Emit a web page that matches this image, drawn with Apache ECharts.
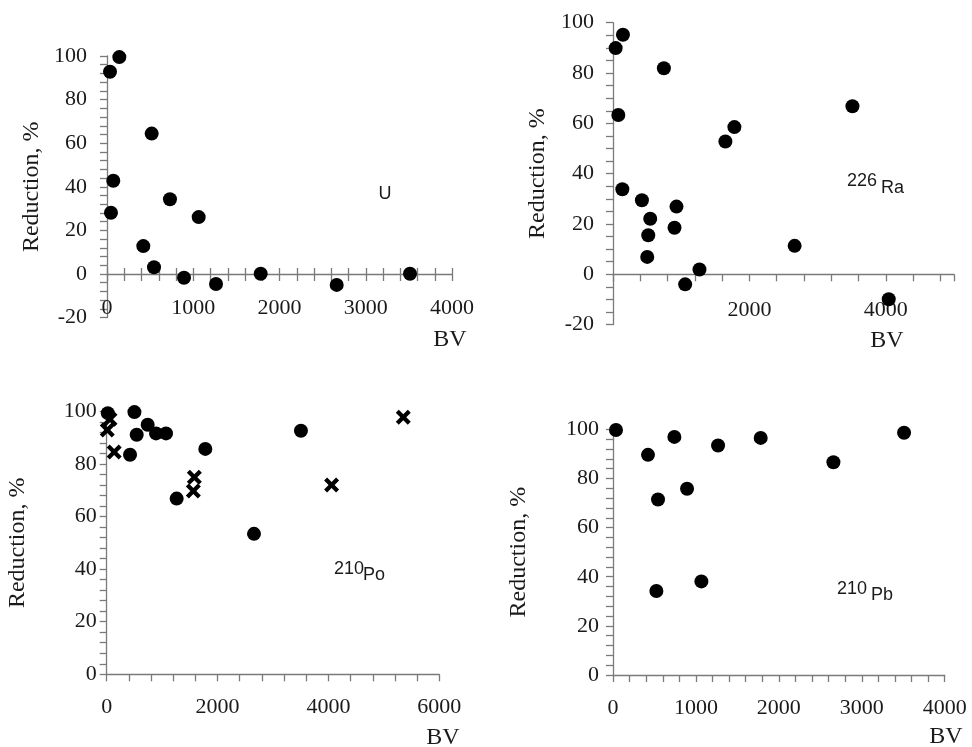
<!DOCTYPE html>
<html>
<head>
<meta charset="utf-8">
<script src="https://cdn.jsdelivr.net/npm/echarts@6/dist/echarts.min.js"></script>
<style>
  html, body { margin: 0; background: #fff; }
  #chart { width: 972px; height: 747px; }
</style>
</head>
<body>
<div id="chart"></div>
<script>
// U
const uBV = [35, 143, 73, 46, 518, 730, 1063, 421, 545, 893, 1264, 1782, 2663, 3513]
const uRed = [92.8, 99.5, 42.8, 28.1, 64.4, 34.3, 26.1, 12.8, 3.1, -1.7, -4.6, 0.1, -5, 0.1]
// 226Ra
const raBV = [39, 146, 746, 78, 137, 424, 546, 517, 502, 931, 902, 1058, 1268, 1648, 1780, 2663, 3511, 4043]
const raRed = [89.9, 95.2, 81.9, 63.3, 33.8, 29.4, 22.1, 15.5, 6.9, 26.9, 18.5, -4.0, 1.9, 52.8, 58.5, 11.3, 66.8, -9.9]
// 210Po (circles and crosses)
const poBV = [20, 500, 739, 541, 890, 1070, 421, 1779, 1262, 2657, 3504]
const poRed = [99.3, 99.7, 94.9, 91.1, 91.6, 91.6, 83.5, 85.7, 66.8, 53.4, 92.6]
const poCrossBV = [10, 60, 135, 1581, 1563, 4057, 5350]
const poCrossRed = [92.9, 97.0, 84.5, 74.9, 69.7, 72.0, 97.7]
// 210Pb
const pbBV = [36, 422, 740, 1267, 1781, 2658, 3510, 543, 893, 523, 1066]
const pbRed = [99.7, 89.6, 96.9, 93.4, 96.5, 86.6, 98.6, 71.4, 75.8, 34.2, 38.1]

const yName = 'Reduction, %'
const serif = 'Liberation Serif'
const sans = 'Liberation Sans'
const textColor = '#1a1a1a'
const lineColor = '#7a7a7a'

const zip = (xs, ys) => xs.map((x, i) => [x, ys[i]])
const every = step => v => (Math.round(v) % step === 0 ? String(Math.round(v)) : '')
const lineStyle = { color: lineColor, width: 1.3 }
const labelStyle = { color: textColor, fontFamily: serif, fontSize: 22 }

const chart = echarts.init(document.getElementById('chart'))

function xAxis(grid, max, interval, labelFn, opts = {}) {
  return Object.assign({
    type: 'value', gridIndex: grid, min: 0, max, interval, position: 'bottom',
    axisLine: { onZero: false, lineStyle },
    axisTick: { length: 7, lineStyle },
    axisLabel: Object.assign({ formatter: labelFn, margin: 22 }, labelStyle),
    splitLine: { show: false }
  }, opts)
}

// x axis that only carries the scale for the marks (drawn on a separate grid)
function hiddenX(grid, max) {
  return { type: 'value', gridIndex: grid, min: 0, max, show: false, splitLine: { show: false } }
}

function yAxis(grid, min, interval, gap, margin) {
  return {
    type: 'value', gridIndex: grid, min, max: 100, interval,
    name: yName, nameLocation: 'middle', nameRotate: 90, nameGap: gap,
    nameTextStyle: { color: textColor, fontFamily: serif, fontSize: 24 },
    axisLine: { show: true, onZero: false, lineStyle },
    axisTick: { show: true, length: 7, lineStyle },
    axisLabel: Object.assign({ formatter: every(20), margin }, labelStyle),
    splitLine: { show: false }
  }
}

function hiddenY(grid) {
  return { type: 'value', gridIndex: grid, min: 0, max: 100, show: false, splitLine: { show: false } }
}

const black = { color: '#000', opacity: 1 }
const dot = { symbol: 'circle', symbolSize: 14, itemStyle: black }
const cross = 'path://M0,4 L4,0 L10,6 L16,0 L20,4 L14,10 L20,16 L16,20 L10,14 L4,20 L0,16 L6,10 Z'

function txt(x, y, text, size, family, align) {
  return {
    type: 'text', x, y,
    style: { text, fill: textColor, font: size + 'px "' + family + '"', align: align || 'center', verticalAlign: 'middle' }
  }
}

chart.setOption({
  backgroundColor: '#fff',
  animation: false,
  grid: [
    { left: 107, top: 56, width: 345, height: 261.6 },      // 0 U
    { left: 613, top: 22.7, width: 341, height: 301.9 },    // 1 Ra
    { left: 106.7, top: 411.3, width: 332.6, height: 263 }, // 2 Po
    { left: 613, top: 429.3, width: 331.7, height: 245.7 }, // 3 Pb
    { left: 107, top: 56, width: 345, height: 218 },        // 4 U x axis at zero
    { left: 613, top: 22.7, width: 341, height: 251.6 }     // 5 Ra x axis at zero
  ],
  xAxis: [
    hiddenX(0, 4000),
    hiddenX(1, 5000),
    xAxis(2, 6000, 400, every(2000)),
    xAxis(3, 4000, 200, every(1000)),
    xAxis(4, 4000, 200, every(1000), { axisLabel: Object.assign({ formatter: every(1000), margin: 23 }, labelStyle) }),
    xAxis(4, 4000, 200, () => '', { axisLine: { show: false }, axisTick: { inside: true, length: 6, lineStyle }, axisLabel: { show: false } }),
    xAxis(5, 5000, 400, v => (v === 2000 || v === 4000 ? String(v) : ''), { axisLabel: Object.assign({ formatter: v => (v === 2000 || v === 4000 ? String(v) : ''), margin: 25 }, labelStyle) })
  ],
  yAxis: [
    yAxis(0, -20, 4, 63, 20),
    yAxis(1, -20, 5, 63, 19),
    yAxis(2, 0, 4, 77, 10),
    yAxis(3, 0, 4, 82, 14),
    hiddenY(4),
    hiddenY(5)
  ],
  series: [
    Object.assign({ type: 'scatter', xAxisIndex: 0, yAxisIndex: 0, data: zip(uBV, uRed) }, dot),
    Object.assign({ type: 'scatter', xAxisIndex: 1, yAxisIndex: 1, data: zip(raBV, raRed) }, dot),
    Object.assign({ type: 'scatter', xAxisIndex: 2, yAxisIndex: 2, data: zip(poBV, poRed) }, dot),
    { type: 'scatter', xAxisIndex: 2, yAxisIndex: 2, data: zip(poCrossBV, poCrossRed), symbol: cross, symbolSize: 15, itemStyle: black },
    Object.assign({ type: 'scatter', xAxisIndex: 3, yAxisIndex: 3, data: zip(pbBV, pbRed) }, dot)
  ],
  graphic: [
    txt(450, 340, 'BV', 24, serif),
    txt(887, 341, 'BV', 24, serif),
    txt(443, 738, 'BV', 24, serif),
    txt(946, 737, 'BV', 24, serif),
    txt(385, 194, 'U', 18, sans),
    txt(847, 181, '226', 18, sans, 'left'),
    txt(881, 188.5, 'Ra', 18, sans, 'left'),
    txt(334, 569, '210', 18, sans, 'left'),
    txt(363, 575, 'Po', 18, sans, 'left'),
    txt(837, 589, '210', 18, sans, 'left'),
    txt(871, 595, 'Pb', 18, sans, 'left')
  ]
})
</script>
</body>
</html>
